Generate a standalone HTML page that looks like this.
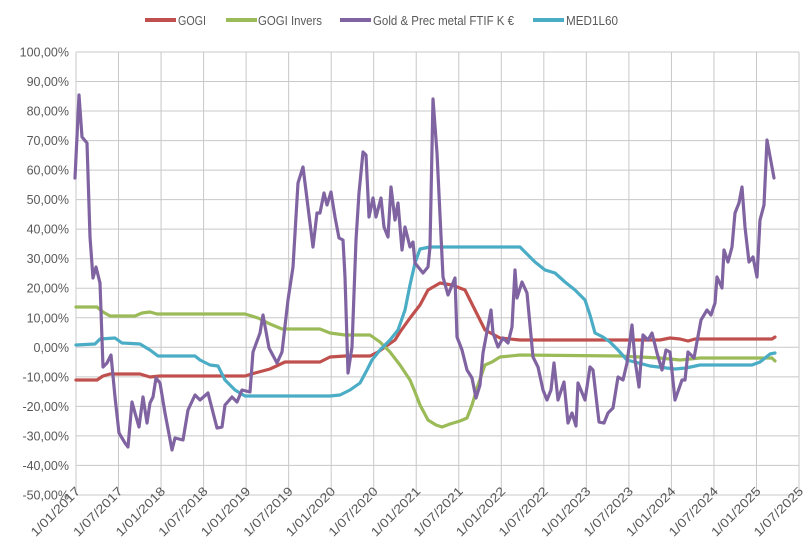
<!DOCTYPE html>
<html><head><meta charset="utf-8"><style>body{margin:0;background:#fff}svg{display:block}text{font-family:"Liberation Sans",sans-serif;fill:#595959}</style></head><body>
<svg width="812" height="539" xmlns="http://www.w3.org/2000/svg">
<g stroke="#c8c8c8" stroke-width="1" id="grid"></g>
<g font-size="12.5" text-anchor="end" id="yl"></g>
<g font-size="12.5" text-anchor="end" id="xl"></g>
<g fill="none" stroke-width="3.2" stroke-linejoin="round" stroke-linecap="round">
<polyline stroke="#c0504d" points="76,380 97,380 103,376 110,374 140,374 150,377 160,376 245,376 255,373 270,369 285,362 320,362 330,357 345,356 370,356 378,352 385,347 395,340 400,332 410,318 420,305 428,290 440,283 452,285 465,290 475,310 485,330 500,338 520,340 660,340 670,338 680,339 688,341 695,339 772,339 775,337"/>
<polyline stroke="#9bbb59" points="76,307 97,307 103,312 110,316 135,316 142,313 150,312 157,314 245,314 258,318 270,324 282,329 320,329 330,333 345,335 370,335 380,342 390,352 400,365 410,380 415,392 420,405 428,420 436,425 442,427 450,424 460,421 467,418 472,405 478,385 485,365 492,362 500,357 520,355 620,356 660,358 680,360 700,358 772,358 775,361"/>
<polyline stroke="#4bacc6" points="76,345 95,344 100,339 115,338 122,343 140,344 150,350 158,356 195,356 200,360 210,365 218,366 225,380 235,390 245,396 330,396 340,395 350,390 360,383 367,370 372,360 380,350 390,340 398,330 405,310 410,285 415,263 420,249 430,247 520,247 525,252 535,262 545,270 555,273 565,282 575,290 585,300 590,315 595,333 603,337 610,342 618,350 627,360 650,366 675,369 686,368 700,365 752,365 760,362 770,354 775,353"/>
<polyline stroke="#8064a2" points="75,178 79,95 82,137 87,143 90,237 93,278 96,267 100,283 103,367 107,363 111,355 115,397 119,433 125,443 128,447 132,402 135,413 139,427 143,397 147,423 150,403 153,397 156,378 160,383 165,413 172,450 175,438 183,440 188,410 195,395 200,400 208,393 217,428 222,427 225,405 232,397 237,402 242,390 250,392 253,352 260,333 263,315 269,348 277,363 282,352 288,300 293,267 298,183 303,167 308,207 313,247 317,213 320,213 324,193 327,205 331,192 335,217 339,238 343,240 345,277 348,373 352,347 356,240 359,193 363,152 366,155 369,217 373,198 376,217 381,198 384,227 388,237 391,187 395,220 398,203 402,250 405,227 410,247 413,242 415,263 423,273 428,267 430,247 433,99 437,153 443,277 448,295 455,278 457,337 462,350 467,370 472,378 476,398 480,385 483,353 491,310 493,333 498,347 503,338 508,343 512,327 515,270 517,298 522,282 527,293 533,357 538,367 543,390 547,400 551,390 554,363 558,400 564,382 568,423 572,413 576,426 578,383 585,400 590,367 593,370 599,422 604,423 608,413 613,408 618,377 623,380 627,363 632,325 635,360 639,387 643,335 648,340 652,333 657,353 662,370 666,350 670,352 675,400 682,380 685,380 688,352 694,358 701,320 707,310 711,315 715,303 717,277 722,288 724,250 728,262 732,247 735,213 739,203 742,187 745,227 749,262 753,257 757,277 760,220 764,205 767,140 774,178"/>
</g>
<g stroke-width="4"><line x1="145" y1="20" x2="176" y2="20" stroke="#c0504d"/><line x1="226" y1="20" x2="257" y2="20" stroke="#9bbb59"/><line x1="340" y1="20" x2="371" y2="20" stroke="#8064a2"/><line x1="533" y1="20" x2="564" y2="20" stroke="#4bacc6"/></g>
<g font-size="13"><text x="178" y="25" textLength="28" lengthAdjust="spacingAndGlyphs">GOGI</text><text x="258" y="25" textLength="64" lengthAdjust="spacingAndGlyphs">GOGI Invers</text><text x="373" y="25" textLength="141" lengthAdjust="spacingAndGlyphs">Gold &amp; Prec metal FTIF K €</text><text x="566" y="25" textLength="52" lengthAdjust="spacingAndGlyphs">MED1L60</text></g>
<script>
var ns="http://www.w3.org/2000/svg",g=document.getElementById('grid'),yl=document.getElementById('yl'),xl=document.getElementById('xl');
for(var i=0;i<=15;i++){var y=52+i*29.53;var l=document.createElementNS(ns,'line');l.setAttribute('x1',76);l.setAttribute('x2',799);l.setAttribute('y1',y);l.setAttribute('y2',y);g.appendChild(l);
var t=document.createElementNS(ns,'text');t.setAttribute('x',69);t.setAttribute('y',y+4.5);t.textContent=(100-i*10)+',00%';yl.appendChild(t);}
for(var j=0;j<=17;j++){var x=76+j*42.53;var l=document.createElementNS(ns,'line');l.setAttribute('x1',x);l.setAttribute('x2',x);l.setAttribute('y1',52);l.setAttribute('y2',495);g.appendChild(l);
var yr=2017+Math.floor(j/2);var lab='1/'+(j%2?'07':'01')+'/'+yr;var t=document.createElementNS(ns,'text');t.setAttribute('transform','translate('+(x+5)+',492) rotate(-45)');t.setAttribute('textLength','64');t.setAttribute('lengthAdjust','spacingAndGlyphs');t.textContent=lab;xl.appendChild(t);}
</script>
</svg>
</body></html>
